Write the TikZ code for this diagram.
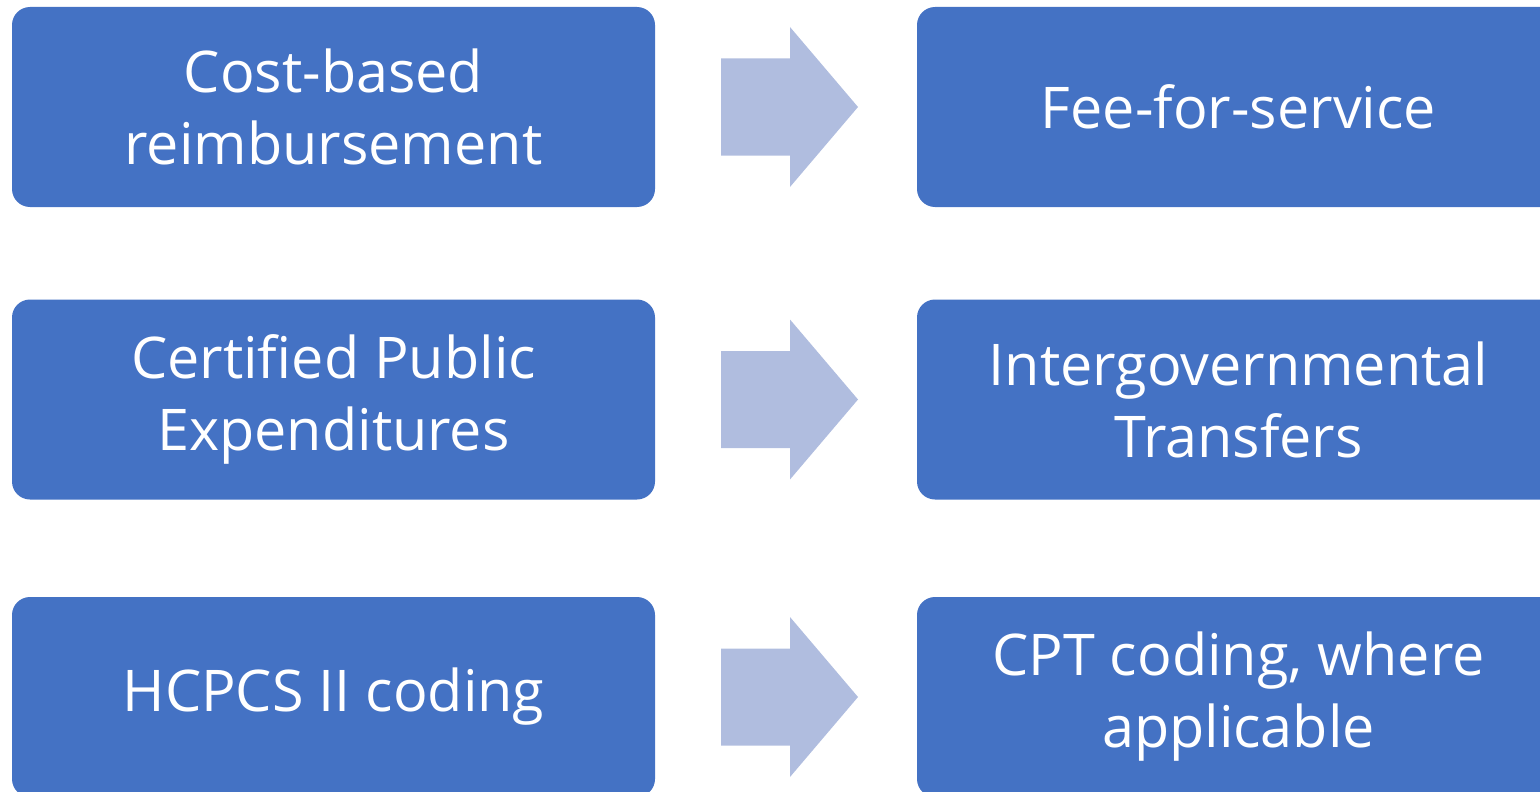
\documentclass[tikz,border=0pt]{standalone}
\usepackage{fontspec}
\setmainfont{Open Sans}
\definecolor{boxblue}{HTML}{4472C4}
\definecolor{arrowblue}{HTML}{B0BDDF}
\begin{document}
\begin{tikzpicture}[x=1pt,y=-1pt]
	\tikzstyle{mybox}=[fill=boxblue,rounded corners=18pt,minimum width=643pt,minimum height=200pt,inner sep=0pt,text=white,align=center,font=\fontsize{57.5}{72}\selectfont]
	\tikzstyle{myarrow}=[fill=arrowblue]
	\useasboundingbox (0,0) rectangle (1540,792);
	\clip (0,0) rectangle (1540,792);

	% left column
	\node[mybox] (cost) at (333.5,107) {Cost-based\\reimbursement};
	\node[mybox] (cpe) at (333.5,399.5) {Certified Public\\Expenditures};
	\node[mybox] (hcpcs) at (333.5,697) {HCPCS II coding};

	% right column
	\node[mybox] (ffs) at (1238.5,107) {Fee-for-service};
	\node[mybox] (igt) at (1238.5,399.5) {Intergovernmental\\Transfers};
	\node[mybox] (cpt) at (1238.5,697) {CPT coding, where\\applicable};

	% block arrows
	\foreach \y in {107,399.5,697} {\fill[myarrow] (721,{\y-48.5}) -- (790,{\y-48.5}) -- (790,{\y-80}) -- (858,\y) -- (790,{\y+80}) -- (790,{\y+48.5}) -- (721,{\y+48.5}) -- cycle;}
\end{tikzpicture}
\end{document}
